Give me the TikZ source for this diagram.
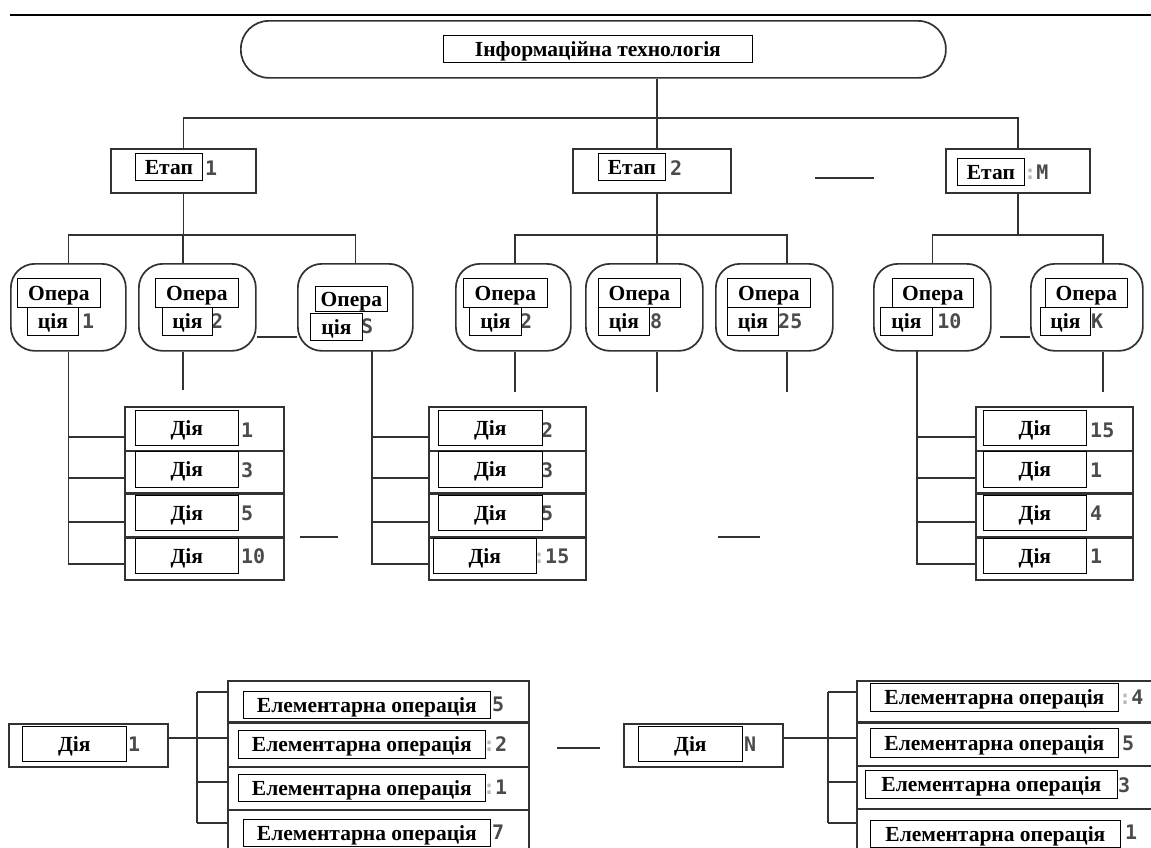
\documentclass[tikz,border=0pt]{standalone}
\usepackage{fontspec}
\setmainfont{Liberation Serif}
\newfontfamily\numfont{DejaVu Sans Mono}
\definecolor{linec}{RGB}{50,50,50}
\definecolor{numc}{RGB}{75,75,75}
\definecolor{faint}{RGB}{185,185,185}
\tikzset{
  sz/.style 2 args={minimum width=#1pt, minimum height=#2pt},
  ln/.style={draw=linec, line width=1.7pt},
  frame/.style={draw=linec, line width=1.7pt, fill=white, inner sep=0pt, anchor=north west},
  opbox/.style={frame, rounded corners=24pt},
  lab/.style={draw=black, line width=0.8pt, fill=white, inner sep=0pt, anchor=north west,
    text height=14.2pt, text depth=0pt,
    font=\bfseries\fontsize{21.5}{21.5}\selectfont},
  num/.style={anchor=west, inner sep=0pt, text=numc, font=\numfont\bfseries\fontsize{20}{20}\selectfont},
  sep/.style={draw=linec, line width=2.8pt},
}
\newcommand{\fc}{{\color{faint}:}}
\begin{document}
\begin{tikzpicture}[x=1pt, y=-1pt]
\fill[white] (0,0) rectangle (1151,847);
\useasboundingbox (0,0) rectangle (1151,847);

% header rule
\draw[line width=2pt, black] (10,15) -- (1151,15);

% ---------- level 0: technology ----------
\node[opbox, rounded corners=28pt, sz={705}{57}] (it) at (240,20) {};

% ---------- level 1: stages ----------
\node[frame, sz={145}{44}] (st1) at (110,148) {};
\node[frame, sz={158}{44}] (st2) at (572,148) {};
\node[frame, sz={144}{44}] (stM) at (945,148) {};

\coordinate (bus0) at (657,118);
\draw[ln] (it.south -| bus0) -- (bus0);
\draw[ln] (st1.north) |- (stM.north |- bus0) -- (stM.north);
\draw[ln] (st2.north -| bus0) -- (bus0);
\coordinate (sd1) at (815,178);
\coordinate (sd2) at (874,178);
\draw[ln] (sd1) -- (sd2);

% ---------- level 2: operations ----------
\node[opbox, sz={115}{87}] (op1)  at (10,263) {};
\node[opbox, sz={117}{87}] (op2)  at (138,263) {};
\node[opbox, sz={115}{87}] (opS)  at (297,263) {};
\node[opbox, sz={115}{87}] (op2b) at (455,263) {};
\node[opbox, sz={117}{87}] (op8)  at (585,263) {};
\node[opbox, sz={117}{87}] (op25) at (715,263) {};
\node[opbox, sz={117}{87}] (op10) at (873,263) {};
\node[opbox, sz={112}{87}] (opK)  at (1030,263) {};

% stage 1 bus
\coordinate (b1) at (183,235);
\draw[ln] (st1.south) -- (st1.south |- b1);
\draw[ln] (op1.north) |- (opS.north |- b1) -- (opS.north);
\draw[ln] (b1) -- (op2.north -| b1);
% stage 2 bus
\coordinate (b2) at (657,235);
\coordinate (c2a) at (515,235);
\coordinate (c2c) at (787,235);
\draw[ln] (st2.south -| b2) -- (b2);
\draw[ln] (op2b.north -| c2a) -- (c2a) -- (c2c) -- (op25.north -| c2c);
\draw[ln] (b2) -- (op8.north -| b2);
% stage M bus
\coordinate (bM) at (1018,235);
\coordinate (cMb) at (1103,235);
\draw[ln] (stM.south) -- (stM.south |- bM);
\draw[ln] (op10.north) |- (cMb) -- (opK.north -| cMb);

% ellipsis dashes between operations
\coordinate (dy1) at (0,337);
\draw[ln] (op2.east |- dy1) -- (opS.west |- dy1);
\coordinate (dy2) at (1000,337);
\draw[ln] (dy2) -- (opK.west |- dy2);

% open stubs under operations
\coordinate (s2) at (183,390);
\coordinate (s3) at (515,392);
\coordinate (s4) at (657,392);
\coordinate (s5) at (787,392);
\coordinate (s6) at (1103,392);
\draw[ln] (op2.south -| s2) -- (s2);
\draw[ln] (op2b.south -| s3) -- (s3);
\draw[ln] (op8.south -| s4) -- (s4);
\draw[ln] (op25.south -| s5) -- (s5);
\draw[ln] (opK.south -| s6) -- (s6);

% ---------- level 3: actions ----------
% list under operation 1
\coordinate (j1a) at (124,437);
\coordinate (j1b) at (124,478);
\coordinate (j1c) at (124,522);
\coordinate (j1d) at (124,564);
\draw[ln] (op1.south) |- (j1d);
\foreach \j in {j1a,j1b,j1c} \draw[ln] (\j -| op1.south) -- (\j);
\node[frame, sz={159}{44}] (L1a) at (124,406) {};
\node[frame, sz={159}{43}] (L1b) at (124,450) {};
\node[frame, sz={159}{44}] (L1c) at (124,493) {};
\node[frame, sz={159}{42}] (L1d) at (124,537) {};
\draw[sep] (L1c.north west) -- (L1c.north east);
\draw[sep] (L1d.north west) -- (L1d.north east);

% list under operation S
\coordinate (kS) at (372,350);
\coordinate (j2a) at (428,437);
\coordinate (j2b) at (428,478);
\coordinate (j2c) at (428,522);
\coordinate (j2d) at (428,564);
\draw[ln] (kS) |- (j2d);
\foreach \j in {j2a,j2b,j2c} \draw[ln] (\j -| kS) -- (\j);
\node[frame, sz={157}{44}] (L2a) at (428,406) {};
\node[frame, sz={157}{43}] (L2b) at (428,450) {};
\node[frame, sz={157}{44}] (L2c) at (428,493) {};
\node[frame, sz={157}{42}] (L2d) at (428,537) {};
\draw[sep] (L2c.north west) -- (L2c.north east);
\draw[sep] (L2d.north west) -- (L2d.north east);

% list under operation 10
\coordinate (k10) at (917,350);
\coordinate (j3a) at (975,437);
\coordinate (j3b) at (975,478);
\coordinate (j3c) at (975,522);
\coordinate (j3d) at (975,564);
\draw[ln] (k10) |- (j3d);
\foreach \j in {j3a,j3b,j3c} \draw[ln] (\j -| k10) -- (\j);
\node[frame, sz={157}{44}] (L3a) at (975,406) {};
\node[frame, sz={157}{43}] (L3b) at (975,450) {};
\node[frame, sz={157}{44}] (L3c) at (975,493) {};
\node[frame, sz={157}{42}] (L3d) at (975,537) {};
\draw[sep] (L3c.north west) -- (L3c.north east);
\draw[sep] (L3d.north west) -- (L3d.north east);

% ellipsis dashes between lists
\coordinate (ld1) at (300,537);
\coordinate (ld2) at (338,537);
\coordinate (ld3) at (718,537);
\coordinate (ld4) at (760,537);
\draw[ln] (ld1) -- (ld2);
\draw[ln] (ld3) -- (ld4);

% ---------- level 4: elementary operations ----------
\node[frame, sz={159}{43}] (D1) at (8,723) {};
\node[frame, sz={301}{42}] (E1a) at (227,680) {};
\node[frame, sz={301}{44}] (E1b) at (227,722) {};
\node[frame, sz={301}{43}] (E1c) at (227,766) {};
\node[frame, sz={301}{60}] (E1d) at (227,809) {};
\draw[sep] (E1b.north west) -- (E1b.north east);
\coordinate (kE1) at (197,0);
\coordinate (e1a) at (227,692);
\coordinate (e1b) at (227,738);
\coordinate (e1c) at (227,782);
\coordinate (e1d) at (227,823);
\draw[ln] (D1.east |- e1b) -- (e1b);
\draw[ln] (e1a -| kE1) -- (e1d -| kE1);
\foreach \j in {e1a,e1c,e1d} \draw[ln] (\j -| kE1) -- (\j);

\coordinate (bd1) at (557,748);
\coordinate (bd2) at (600,748);
\draw[ln] (bd1) -- (bd2);

\node[frame, sz={159}{43}] (DN) at (623,723) {};
\node[frame, sz={320}{42}] (ENa) at (856,680) {};
\node[frame, sz={320}{43}] (ENb) at (856,722) {};
\node[frame, sz={320}{43}] (ENc) at (856,765) {};
\node[frame, sz={320}{60}] (ENd) at (856,808) {};
\draw[sep] (ENb.north west) -- (ENb.north east);
\coordinate (kEN) at (828,0);
\coordinate (ena) at (856,692);
\coordinate (enb) at (856,738);
\coordinate (enc) at (856,782);
\coordinate (end) at (856,823);
\draw[ln] (DN.east |- enb) -- (enb);
\draw[ln] (ena -| kEN) -- (end -| kEN);
\foreach \j in {ena,enc,end} \draw[ln] (\j -| kEN) -- (\j);

% ---------- numbers ----------
\node[num] (n-st1) at (205,168) {1};
\node[num] (n-st2) at (670,168) {2};
\node[num] (n-stM) at (1024,172) {\fc M};
\node[num] (n-op1) at (82,321) {1};
\node[num] (n-op2) at (211,321) {2};
\node[num] (n-opS) at (361,326) {S};
\node[num] (n-op2b) at (520,321) {2};
\node[num] (n-op8) at (650,321) {8};
\node[num] (n-op25) at (778,321) {25};
\node[num] (n-op10) at (925,321) {\fc 10};
\node[num] (n-opK) at (1091,321) {K};
\node[num] (n-L1a) at (241,430) {1};
\node[num] (n-L1b) at (241,470) {3};
\node[num] (n-L1c) at (241,513) {5};
\node[num] (n-L1d) at (241,556) {10};
\node[num] (n-L2a) at (541,430) {2};
\node[num] (n-L2b) at (541,470) {3};
\node[num] (n-L2c) at (541,513) {5};
\node[num] (n-L2d) at (533,556) {\fc 15};
\node[num] (n-L3a) at (1090,430) {15};
\node[num] (n-L3b) at (1090,470) {1};
\node[num] (n-L3c) at (1090,513) {4};
\node[num] (n-L3d) at (1090,556) {1};
\node[num] (n-D1) at (128,744) {1};
\node[num] (n-E1a) at (492,704) {5};
\node[num] (n-E1b) at (483,744) {\fc 2};
\node[num] (n-E1c) at (483,787) {\fc 1};
\node[num] (n-E1d) at (492,832) {7};
\node[num] (n-DN) at (744,744) {N};
\node[num] (n-ENa) at (1119,697) {\fc 4};
\node[num] (n-ENb) at (1122,743) {5};
\node[num] (n-ENc) at (1118,785) {3};
\node[num] (n-ENd) at (1125,832) {1};

% ---------- text labels ----------
\node[lab, sz={309}{27}] (l-it) at (443,35) {Інформаційна технологія};
\node[lab, sz={67}{27}] (l-st1) at (135,153) {Етап};
\node[lab, sz={67}{27}] (l-st2) at (598,153) {Етап};
\node[lab, sz={67}{27}] (l-stM) at (957,158) {Етап};

\node[lab, sz={83}{29}] (l-op1a) at (17,278) {Опера};
\node[lab, sz={51}{28}] (l-op1b) at (27,307) {ція};
\node[lab, sz={83}{29}] (l-op2a) at (155,278) {Опера};
\node[lab, sz={50}{28}] (l-op2b) at (162,307) {ція};
\node[lab, sz={72}{25}] (l-opSa) at (315,286) {Опера};
\node[lab, sz={52}{27}] (l-opSb) at (310,313) {ція};
\node[lab, sz={84}{29}] (l-op2ba) at (463,278) {Опера};
\node[lab, sz={52}{28}] (l-op2bb) at (469,307) {ція};
\node[lab, sz={82}{29}] (l-op8a) at (598,278) {Опера};
\node[lab, sz={51}{28}] (l-op8b) at (598,307) {ція};
\node[lab, sz={83}{29}] (l-op25a) at (727,278) {Опера};
\node[lab, sz={51}{28}] (l-op25b) at (727,307) {ція};
\node[lab, sz={81}{29}] (l-op10a) at (892,278) {Опера};
\node[lab, sz={52}{28}] (l-op10b) at (880,307) {ція};
\node[lab, sz={82}{29}] (l-opKa) at (1045,278) {Опера};
\node[lab, sz={50}{28}] (l-opKb) at (1040,307) {ція};

\node[lab, sz={103}{35}] (l-L1a) at (135,410) {Дія};
\node[lab, sz={103}{36}] (l-L1b) at (135,451) {Дія};
\node[lab, sz={103}{35}] (l-L1c) at (135,495) {Дія};
\node[lab, sz={103}{35}] (l-L1d) at (135,538) {Дія};
\node[lab, sz={104}{35}] (l-L2a) at (438,410) {Дія};
\node[lab, sz={104}{36}] (l-L2b) at (438,451) {Дія};
\node[lab, sz={104}{35}] (l-L2c) at (438,495) {Дія};
\node[lab, sz={103}{35}] (l-L2d) at (433,538) {Дія};
\node[lab, sz={103}{35}] (l-L3a) at (983,410) {Дія};
\node[lab, sz={103}{36}] (l-L3b) at (983,451) {Дія};
\node[lab, sz={103}{35}] (l-L3c) at (983,495) {Дія};
\node[lab, sz={103}{35}] (l-L3d) at (983,538) {Дія};

\node[lab, sz={104}{35}] (l-D1) at (22,726) {Дія};
\node[lab, sz={247}{27}] (l-E1a) at (243,691) {Елементарна операція};
\node[lab, sz={247}{28}] (l-E1b) at (238,730) {Елементарна операція};
\node[lab, sz={247}{27}] (l-E1c) at (238,774) {Елементарна операція};
\node[lab, sz={247}{27}] (l-E1d) at (243,819) {Елементарна операція};
\node[lab, sz={104}{35}] (l-DN) at (638,726) {Дія};
\node[lab, sz={248}{28}] (l-ENa) at (870,683) {Елементарна операція};
\node[lab, sz={248}{29}] (l-ENb) at (870,728) {Елементарна операція};
\node[lab, sz={252}{28}] (l-ENc) at (865,770) {Елементарна операція};
\node[lab, sz={250}{27}] (l-ENd) at (870,820) {Елементарна операція};
\end{tikzpicture}
\end{document}
